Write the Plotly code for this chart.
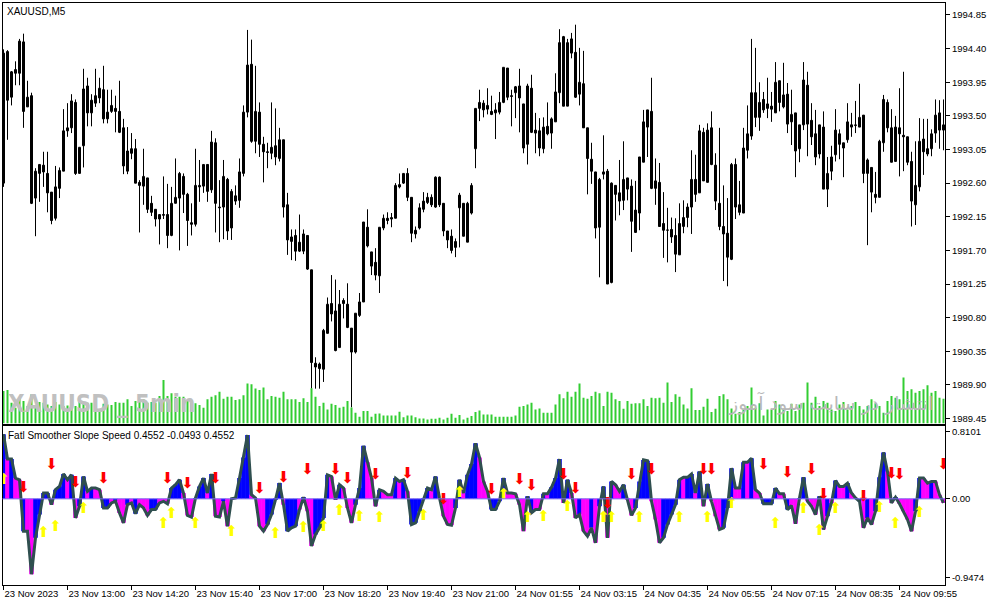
import plotly.graph_objects as go

# XAUUSD M5 candles (bar 0 = leftmost)
open_ = [
    1992.60, 1994.36, 1993.75, 1994.07, 1994.07, 1994.49, 1993.62, 1993.77, 1992.40, 1992.73,
    1992.84, 1992.73, 1992.48, 1992.13, 1992.53, 1992.76, 1993.30, 1993.34, 1993.68, 1992.73,
    1993.10, 1993.90, 1993.54, 1993.67, 1993.74, 1993.85, 1993.46, 1993.56, 1993.60, 1993.56,
    1993.34, 1992.76, 1993.06, 1993.06, 1992.61, 1992.56, 1992.67, 1992.33, 1992.25, 1992.12,
    1992.18, 1992.18, 1991.90, 1992.33, 1992.40, 1992.69, 1992.45, 1992.07, 1992.05, 1992.55,
    1992.56, 1992.85, 1992.51, 1993.14, 1992.28, 1992.28, 1992.65, 1992.00, 1992.43, 1992.37,
    1992.73, 1993.55, 1994.19, 1993.16, 1993.55, 1993.12, 1993.02, 1993.00, 1993.10, 1992.93,
    1993.18, 1992.31, 1991.82, 1991.90, 1991.69, 1991.69, 1991.90, 1991.44, 1990.19, 1990.18,
    1990.11, 1990.59, 1990.99, 1990.89, 1990.40, 1991.03, 1990.98, 1990.66, 1990.34, 1990.83,
    1991.01, 1992.01, 1991.68, 1991.54, 1991.36, 1992.00, 1992.13, 1992.12, 1992.13, 1992.58,
    1992.60, 1992.73, 1992.41, 1991.92, 1992.00, 1992.25, 1992.34, 1992.41, 1992.28, 1992.68,
    1992.33, 1991.96, 1991.89, 1991.74, 1992.27, 1992.33, 1991.81, 1992.20, 1993.06, 1993.60,
    1993.67, 1993.59, 1993.56, 1993.54, 1993.55, 1993.68, 1994.14, 1993.77, 1993.81, 1993.90,
    1993.66, 1993.12, 1993.87, 1993.31, 1993.30, 1993.06, 1993.36, 1993.27, 1993.42, 1993.81,
    1994.56, 1993.63, 1994.53, 1994.35, 1993.79, 1993.93, 1993.34, 1992.92, 1992.75, 1992.01,
    1992.72, 1992.76, 1991.27, 1992.57, 1992.47, 1992.37, 1992.67, 1992.56, 1991.94, 1992.20,
    1992.88, 1993.35, 1993.56, 1992.53, 1992.61, 1992.06, 1991.97, 1991.98, 1991.90, 1991.64,
    1992.02, 1992.14, 1992.28, 1992.65, 1992.47, 1993.28, 1992.61, 1993.34, 1992.84, 1992.33,
    1992.02, 1991.93, 1991.58, 1992.85, 1992.31, 1992.20, 1993.04, 1993.23, 1993.81, 1993.48,
    1993.72, 1993.60, 1993.63, 1993.54, 1993.97, 1993.62, 1993.79, 1993.42, 1993.54, 1993.06,
    1993.38, 1993.91, 1993.44, 1993.26, 1992.99, 1993.35, 1992.52, 1992.76, 1992.98, 1993.26,
    1993.07, 1993.18, 1993.38, 1993.37, 1993.35, 1993.51, 1992.73, 1992.81, 1992.45, 1992.41,
    1993.14, 1993.68, 1993.34, 1992.89, 1993.34, 1993.24, 1993.22, 1992.89, 1992.31, 1992.55,
    1993.19, 1993.06, 1993.06, 1993.27, 1993.54, 1993.31]

high = [
    1994.39, 1994.38, 1994.10, 1994.23, 1994.53, 1994.60, 1993.97, 1993.81, 1992.80, 1992.85,
    1993.02, 1993.02, 1992.48, 1992.83, 1992.81, 1993.59, 1993.67, 1993.79, 1993.72, 1993.08,
    1994.13, 1994.01, 1993.79, 1994.13, 1994.01, 1994.17, 1993.85, 1993.85, 1993.77, 1993.97,
    1993.46, 1993.35, 1993.27, 1993.19, 1992.64, 1993.06, 1992.67, 1992.43, 1992.25, 1992.18,
    1992.69, 1992.59, 1992.55, 1992.93, 1992.75, 1992.73, 1992.47, 1992.33, 1993.06, 1992.91,
    1992.85, 1992.85, 1993.30, 1993.20, 1992.64, 1992.91, 1992.67, 1992.52, 1992.57, 1992.93,
    1993.64, 1994.65, 1994.52, 1994.17, 1993.68, 1993.22, 1993.14, 1993.68, 1993.60, 1993.34,
    1993.18, 1992.47, 1991.98, 1991.98, 1992.18, 1991.98, 1991.90, 1991.44, 1990.27, 1990.20,
    1990.65, 1991.07, 1991.37, 1991.31, 1991.17, 1991.06, 1991.26, 1990.66, 1990.86, 1991.13,
    1992.08, 1992.25, 1991.68, 1991.73, 1992.01, 1992.18, 1992.21, 1992.20, 1992.60, 1992.73,
    1992.73, 1992.80, 1992.41, 1992.02, 1992.33, 1992.48, 1992.47, 1992.45, 1992.69, 1992.69,
    1992.33, 1991.96, 1991.98, 1991.86, 1992.47, 1992.33, 1992.35, 1992.60, 1993.60, 1993.85,
    1993.71, 1993.87, 1993.77, 1993.67, 1993.82, 1994.15, 1994.14, 1993.85, 1993.90, 1994.13,
    1993.66, 1993.93, 1994.05, 1993.54, 1993.47, 1993.48, 1993.68, 1993.48, 1994.07, 1994.66,
    1994.57, 1994.53, 1994.61, 1994.72, 1994.41, 1994.37, 1993.34, 1993.14, 1992.75, 1992.67,
    1993.24, 1992.79, 1992.61, 1992.57, 1992.91, 1993.16, 1992.67, 1992.65, 1992.63, 1992.95,
    1993.58, 1993.58, 1994.01, 1992.93, 1992.87, 1992.48, 1992.27, 1992.14, 1992.13, 1992.33,
    1992.37, 1992.33, 1993.04, 1992.98, 1993.38, 1993.34, 1993.40, 1993.56, 1993.00, 1993.34,
    1992.57, 1992.40, 1992.87, 1992.93, 1992.63, 1993.34, 1993.64, 1994.53, 1994.41, 1993.95,
    1993.82, 1994.01, 1993.82, 1994.22, 1993.97, 1994.21, 1993.94, 1993.85, 1993.54, 1993.38,
    1994.22, 1994.09, 1993.67, 1993.58, 1993.38, 1993.56, 1992.95, 1993.10, 1993.59, 1993.32,
    1993.14, 1993.67, 1993.54, 1993.70, 1993.93, 1993.51, 1992.93, 1992.81, 1992.75, 1993.18,
    1993.78, 1993.72, 1993.59, 1993.50, 1993.87, 1994.09, 1993.22, 1993.02, 1993.16, 1993.47,
    1993.46, 1993.46, 1993.32, 1993.72, 1993.71, 1993.72]

low = [
    1992.55, 1993.18, 1993.64, 1993.91, 1993.91, 1993.34, 1993.62, 1992.32, 1991.89, 1992.35,
    1992.55, 1992.21, 1992.05, 1992.10, 1992.40, 1992.76, 1993.22, 1993.27, 1992.71, 1992.73,
    1992.81, 1993.36, 1993.36, 1993.62, 1993.67, 1993.40, 1993.40, 1993.54, 1993.28, 1993.27,
    1992.72, 1992.72, 1992.92, 1992.60, 1991.94, 1992.31, 1992.20, 1992.16, 1992.02, 1991.78,
    1992.12, 1991.73, 1991.89, 1992.33, 1991.70, 1992.20, 1991.76, 1991.90, 1992.02, 1992.35,
    1992.47, 1992.35, 1992.47, 1991.94, 1991.81, 1991.85, 1991.84, 1991.84, 1992.31, 1992.27,
    1992.69, 1993.48, 1993.14, 1993.00, 1992.95, 1992.61, 1992.80, 1992.92, 1992.84, 1992.89,
    1992.14, 1991.64, 1991.57, 1991.56, 1991.68, 1991.65, 1991.44, 1989.85, 1989.85, 1989.85,
    1989.94, 1990.59, 1990.75, 1990.35, 1990.40, 1990.79, 1990.66, 1989.60, 1990.32, 1990.81,
    1991.01, 1991.74, 1991.37, 1991.30, 1991.13, 1991.97, 1992.05, 1992.01, 1992.13, 1992.53,
    1992.59, 1992.36, 1991.81, 1991.86, 1991.98, 1992.21, 1992.32, 1992.28, 1992.27, 1992.28,
    1991.89, 1991.73, 1991.66, 1991.61, 1991.74, 1991.89, 1991.81, 1992.18, 1992.80, 1993.43,
    1993.48, 1993.52, 1993.51, 1993.19, 1993.52, 1993.67, 1993.71, 1993.36, 1993.47, 1993.28,
    1993.00, 1992.85, 1993.27, 1993.00, 1992.96, 1993.00, 1993.24, 1993.06, 1993.42, 1993.67,
    1993.63, 1993.63, 1994.27, 1993.74, 1993.64, 1993.34, 1992.45, 1992.59, 1991.86, 1991.34,
    1992.65, 1991.25, 1991.26, 1992.10, 1992.17, 1992.24, 1992.37, 1991.68, 1991.94, 1991.97,
    1992.88, 1992.95, 1992.52, 1992.31, 1992.02, 1991.60, 1991.54, 1991.80, 1991.41, 1991.64,
    1991.93, 1992.01, 1991.92, 1992.35, 1992.47, 1992.63, 1992.61, 1992.84, 1992.24, 1991.97,
    1991.29, 1991.22, 1991.57, 1992.12, 1992.17, 1992.20, 1992.93, 1993.18, 1993.35, 1993.30,
    1993.54, 1993.47, 1993.42, 1993.54, 1993.56, 1993.60, 1993.27, 1993.11, 1992.68, 1992.88,
    1993.31, 1992.96, 1993.11, 1992.84, 1992.93, 1992.52, 1992.28, 1992.64, 1992.89, 1992.92,
    1992.68, 1993.14, 1993.22, 1993.27, 1993.35, 1992.60, 1991.77, 1992.21, 1992.33, 1992.41,
    1993.02, 1993.28, 1992.88, 1992.89, 1992.69, 1992.76, 1992.84, 1992.02, 1992.04, 1992.49,
    1992.71, 1992.96, 1992.96, 1993.14, 1993.06, 1993.04]

close = [
    1994.34, 1993.71, 1994.09, 1994.12, 1994.50, 1993.56, 1993.75, 1992.33, 1992.76, 1992.85,
    1992.75, 1992.47, 1992.10, 1992.55, 1992.77, 1993.30, 1993.34, 1993.70, 1992.73, 1993.08,
    1993.86, 1993.54, 1993.71, 1993.77, 1993.87, 1993.46, 1993.55, 1993.64, 1993.56, 1993.28,
    1992.83, 1993.03, 1993.00, 1992.60, 1992.57, 1992.69, 1992.25, 1992.21, 1992.12, 1992.18,
    1992.17, 1991.90, 1992.33, 1992.41, 1992.73, 1992.45, 1992.10, 1992.05, 1992.57, 1992.57,
    1992.85, 1992.49, 1993.15, 1992.33, 1992.27, 1992.69, 1991.96, 1992.49, 1992.36, 1992.75,
    1993.55, 1994.18, 1993.16, 1993.56, 1993.12, 1993.02, 1993.01, 1993.08, 1992.95, 1993.18,
    1992.28, 1991.84, 1991.88, 1991.69, 1991.81, 1991.92, 1991.45, 1990.20, 1990.14, 1990.12,
    1990.63, 1990.98, 1990.85, 1990.36, 1990.98, 1990.99, 1990.67, 1990.34, 1990.86, 1991.01,
    1992.08, 1991.76, 1991.49, 1991.37, 1992.01, 1992.13, 1992.10, 1992.14, 1992.57, 1992.55,
    1992.73, 1992.41, 1991.93, 1991.97, 1992.27, 1992.36, 1992.41, 1992.31, 1992.68, 1992.31,
    1991.96, 1991.84, 1991.70, 1991.82, 1992.44, 1991.89, 1992.33, 1992.57, 1993.60, 1993.68,
    1993.58, 1993.64, 1993.52, 1993.58, 1993.68, 1994.15, 1993.75, 1993.76, 1993.89, 1993.74,
    1993.07, 1993.90, 1993.28, 1993.27, 1993.07, 1993.35, 1993.26, 1993.46, 1993.82, 1994.48,
    1993.63, 1994.48, 1994.34, 1993.75, 1993.95, 1993.34, 1992.93, 1992.76, 1992.00, 1992.65,
    1992.75, 1991.25, 1992.60, 1992.45, 1992.36, 1992.65, 1992.52, 1992.09, 1992.24, 1992.95,
    1993.42, 1993.58, 1992.53, 1992.63, 1992.02, 1991.97, 1991.97, 1991.88, 1991.65, 1992.06,
    1992.14, 1992.28, 1992.65, 1992.45, 1993.30, 1992.63, 1993.31, 1992.85, 1992.36, 1992.02,
    1991.92, 1991.61, 1992.85, 1992.28, 1992.21, 1993.07, 1993.26, 1993.81, 1993.48, 1993.68,
    1993.58, 1993.66, 1993.59, 1993.95, 1993.68, 1993.78, 1993.39, 1993.52, 1993.03, 1993.38,
    1993.98, 1993.39, 1993.22, 1992.95, 1993.38, 1992.52, 1992.73, 1992.95, 1993.31, 1993.12,
    1993.14, 1993.42, 1993.35, 1993.38, 1993.48, 1992.73, 1992.91, 1992.48, 1992.41, 1993.16,
    1993.72, 1993.34, 1992.88, 1993.35, 1993.26, 1993.22, 1992.88, 1992.36, 1992.57, 1993.16,
    1993.02, 1992.99, 1993.26, 1993.51, 1993.31, 1993.38]

# tick volume
volume = [
    97, 100, 62, 47, 77, 67, 52, 87, 47, 64,
    62, 57, 52, 64, 57, 52, 54, 52, 52, 64,
    62, 62, 62, 52, 42, 59, 57, 55, 64, 62,
    62, 72, 52, 67, 72, 72, 62, 64, 62, 82,
    130, 82, 90, 80, 80, 80, 67, 62, 60, 55,
    47, 72, 80, 84, 95, 74, 80, 80, 70, 72,
    84, 119, 117, 104, 100, 107, 72, 82, 80, 77,
    95, 72, 72, 72, 64, 75, 64, 105, 80, 52,
    62, 42, 59, 55, 47, 50, 67, 48, 32, 20,
    37, 37, 20, 29, 30, 24, 24, 24, 24, 35,
    19, 24, 24, 19, 15, 15, 12, 14, 14, 17,
    12, 17, 29, 17, 25, 12, 17, 22, 34, 39,
    27, 27, 27, 20, 20, 20, 20, 20, 24, 50,
    52, 57, 62, 42, 45, 32, 32, 32, 57, 87,
    75, 95, 80, 95, 119, 77, 74, 82, 95, 90,
    52, 95, 92, 72, 67, 44, 67, 59, 60, 60,
    72, 52, 77, 75, 77, 62, 122, 64, 87, 80,
    57, 45, 105, 40, 40, 50, 74, 34, 44, 82,
    87, 72, 45, 29, 34, 42, 52, 107, 47, 60,
    24, 42, 42, 67, 57, 44, 37, 59, 37, 57,
    62, 122, 62, 80, 52, 67, 62, 42, 37, 57,
    64, 42, 52, 64, 52, 42, 52, 72, 60, 52,
    32, 67, 82, 77, 72, 137, 97, 102, 92, 97,
    102, 114, 92, 97, 77, 74]

# Fatl Smoother Slope Speed indicator
speed = [
    0.78, 0.48, 0.48, 0.25, 0.23, -0.39, -0.39, -0.91, -0.47, -0.19,
    0.07, 0.07, -0.07, 0.11, 0.15, 0.30, 0.23, 0.29, -0.23, -0.09,
    0.27, 0.09, 0.13, 0.13, 0.11, -0.11, -0.11, -0.05, -0.03, -0.17,
    -0.29, -0.07, -0.05, -0.18, -0.07, -0.11, -0.20, -0.13, -0.13, -0.05,
    -0.03, -0.06, 0.13, 0.17, 0.23, 0.07, -0.20, -0.22, 0.01, 0.15,
    0.25, 0.07, 0.30, -0.21, -0.22, -0.03, -0.33, 0.00, 0.01, 0.25,
    0.50, 0.77, 0.05, 0.01, -0.33, -0.39, -0.31, -0.19, -0.01, 0.19,
    -0.07, -0.39, -0.35, -0.33, -0.13, 0.02, -0.15, -0.57, -0.43, -0.35,
    -0.23, 0.29, 0.27, -0.01, 0.17, 0.13, -0.11, -0.29, -0.07, 0.13,
    0.64, 0.44, 0.25, -0.09, 0.11, 0.09, 0.05, 0.05, 0.25, 0.21,
    0.23, 0.09, -0.31, -0.29, -0.15, 0.01, 0.13, 0.11, 0.27, 0.01,
    -0.21, -0.31, -0.32, -0.11, 0.23, 0.07, 0.29, 0.42, 0.67, 0.50,
    0.21, 0.09, -0.13, -0.13, -0.03, 0.25, 0.07, 0.07, 0.06, -0.07,
    -0.39, 0.03, -0.17, -0.13, -0.13, 0.06, 0.06, 0.14, 0.25, 0.48,
    -0.05, 0.23, 0.07, -0.23, -0.19, -0.39, -0.45, -0.35, -0.53, -0.09,
    0.15, -0.47, 0.21, 0.17, 0.09, 0.17, -0.01, -0.20, -0.11, 0.21,
    0.47, 0.46, -0.03, -0.25, -0.53, -0.47, -0.31, -0.19, -0.07, 0.23,
    0.26, 0.26, 0.30, 0.07, 0.33, -0.09, 0.18, -0.03, -0.21, -0.37,
    -0.35, -0.11, 0.37, 0.13, 0.13, 0.44, 0.44, 0.49, 0.11, 0.07,
    -0.06, -0.06, -0.06, 0.13, 0.06, 0.06, -0.13, -0.08, -0.30, 0.01,
    0.26, -0.03, -0.09, -0.19, 0.03, -0.37, -0.21, -0.05, 0.22, 0.15,
    0.15, 0.19, 0.07, 0.01, -0.03, -0.35, -0.23, -0.31, -0.15, 0.26,
    0.56, 0.33, -0.05, 0.02, -0.06, -0.15, -0.25, -0.39, -0.15, 0.25,
    0.25, 0.19, 0.21, 0.21, 0.05, -0.05]

# histogram state per bar: b = blue buffer, m = magenta buffer
speed_state = (
    "bmbmmbmmbb" "bbmbbbmbmb" "bmbmmbbmbm" "mbmbmmmbbm" "mmbbbmmmbb"
    "bmbmmbmbbb" "bbmmmmbbbb" "mbbbmbmmbb" "bbmmbmmmbb" "bmmmbmmmbm"
    "bmbbbbbmbm" "mmmbbmbbbm" "mmbbbbmmmm" "mbbmmbmbbb" "mbmmbmmbmb"
    "bmbmmbmmbb" "bbmmmbbbbb" "mbbmbmbmmm" "bbbmmbmbmm" "bbbbmmbmmb"
    "bmmmbmbmbm" "mbmmbmbmbb" "bmmbmmmmbb" "mmbmmm")

sell_bars = [5, 12, 18, 25, 41, 46, 53, 64, 70, 76, 83, 86, 93, 101, 110, 122, 129,
             132, 140, 143, 151, 157, 162, 175, 177, 190, 196, 202, 205, 215, 222, 224, 235]
sell_level = [0.13, 0.40, 0.19, 0.24, 0.24, 0.17, 0.24, 0.12, 0.25, 0.34, 0.34, 0.24,
              0.28, 0.30, -0.02, 0.10, 0.22, 0.15, 0.28, 0.11, -0.06, 0.28, 0.35, 0.34,
              0.35, 0.41, 0.31, 0.35, 0.04, 0.02, 0.30, 0.28, 0.41]
buy_bars = [0, 10, 13, 20, 40, 42, 48, 57, 68, 75, 80, 84, 89, 94, 105, 114, 125,
            131, 135, 141, 150, 152, 159, 169, 176, 182, 193, 200, 204, 208, 219, 223, 229]
buy_level = [0.23, -0.42, -0.34, -0.13, -0.31, -0.19, -0.31, -0.40, -0.43, -0.35, -0.34,
             -0.15, -0.22, -0.23, -0.21, 0.07, 0.04, -0.24, -0.22, -0.10, -0.23, -0.23,
             -0.23, -0.23, -0.23, -0.07, -0.31, -0.13, -0.39, -0.13, -0.11, -0.31, -0.18]

time_labels = ["23 Nov 2023", "23 Nov 13:00", "23 Nov 14:20", "23 Nov 15:40", "23 Nov 17:00",
               "23 Nov 18:20", "23 Nov 19:40", "23 Nov 21:00", "24 Nov 01:55", "24 Nov 03:15",
               "24 Nov 04:35", "24 Nov 05:55", "24 Nov 07:15", "24 Nov 08:35", "24 Nov 09:55"]
price_ticks = ["1994.85", "1994.40", "1993.95", "1993.50", "1993.05", "1992.60", "1992.15",
               "1991.70", "1991.25", "1990.80", "1990.35", "1989.90", "1989.45"]
speed_ticks = ["0.8101", "0.00", "-0.9474"]

bars = list(range(len(close)))
label_bars = bars[::16][:len(time_labels)]
state_colors = {"b": "#0000FF", "m": "#FF00FF"}

# candle pieces built from the OHLC lists
wick_x, wick_y = [], []
for i in bars:
    wick_x += [i, i, None]
    wick_y += [low[i], high[i], None]
body_base = [min(o, c) for o, c in zip(open_, close)]
body_size = [max(abs(c - o), 0.004) for o, c in zip(open_, close)]
body_fill = ["white" if c > o else "black" for o, c in zip(open_, close)]

FONT = "Liberation Sans, Arial, sans-serif"
W, H = 991, 605
x_dom = [2.5 / W, 945 / W]
x_range = [-0.25, 235.375]     # 4 px per bar, bar centres on half pixels
main_dom = [1 - 423.5 / H, 1 - 2.5 / H]
ind_dom = [1 - 584.5 / H, 1 - 426 / H]

fig = go.Figure()

fig.add_trace(go.Bar(
    x=bars, y=volume, width=0.25, marker_color="#32CD32", marker_line_width=0,
    xaxis="x", yaxis="y3", hoverinfo="skip"))

fig.add_trace(go.Scatter(
    x=wick_x, y=wick_y, mode="lines", line=dict(color="black", width=1),
    xaxis="x", yaxis="y", hoverinfo="skip"))

fig.add_trace(go.Bar(
    x=bars, y=body_size, base=body_base, width=0.5,
    marker=dict(color=body_fill, line=dict(color="black", width=1)),
    xaxis="x", yaxis="y", hoverinfo="skip"))

# slightly wider than the bar step so neighbouring columns close up
fig.add_trace(go.Bar(
    x=bars, y=speed, width=1.15, marker_line_width=0,
    marker_color=[state_colors[s] for s in speed_state],
    xaxis="x2", yaxis="y2", hoverinfo="skip"))

fig.add_trace(go.Scatter(
    x=bars, y=speed, mode="lines", line=dict(color="#2F4F4F", width=3),
    xaxis="x2", yaxis="y2"))

fig.add_trace(go.Scatter(
    x=sell_bars, y=sell_level, mode="text", text=["⬇"] * len(sell_bars),
    textfont=dict(color="#FF0000", size=15, family="DejaVu Sans"),
    xaxis="x2", yaxis="y2"))

fig.add_trace(go.Scatter(
    x=buy_bars, y=buy_level, mode="text", text=["⬆"] * len(buy_bars),
    textfont=dict(color="#FFFF00", size=15, family="DejaVu Sans"),
    xaxis="x2", yaxis="y2"))

axis_common = dict(showgrid=False, zeroline=False, showline=True, mirror=True,
                   automargin=False, linecolor="black", linewidth=1, tickcolor="black",
                   tickfont=dict(family=FONT, size=9.5, color="black"))

fig.update_layout(
    width=W, height=H,
    margin=dict(l=0, r=0, t=0, b=0, autoexpand=False),
    paper_bgcolor="white", plot_bgcolor="white",
    showlegend=False, barmode="overlay",
    xaxis=dict(domain=x_dom, anchor="y", range=x_range,
               showticklabels=False, ticks="", **axis_common),
    yaxis=dict(domain=main_dom, anchor="x", side="right",
               range=[1989.384, 1995.017],
               tickvals=[float(p) for p in price_ticks], ticktext=price_ticks,
               ticks="outside", ticklen=4, **axis_common),
    yaxis3=dict(overlaying="y", range=[0, 1255], visible=False),
    xaxis2=dict(domain=x_dom, anchor="y2", matches="x", range=x_range,
                tickvals=label_bars, ticktext=time_labels, tickangle=0,
                ticks="outside", ticklen=4, ticklabelposition="outside right",
                **axis_common),
    yaxis2=dict(domain=ind_dom, anchor="x2", side="right", range=[-1.034, 0.879],
                tickvals=[float(v) for v in speed_ticks], ticktext=speed_ticks,
                ticks="outside", ticklen=4, **axis_common),
)

# zero level of the indicator window
fig.add_shape(type="line", xref="x2 domain", yref="y2", x0=0, x1=1, y0=0, y1=0,
              line=dict(color="#7B68EE", width=1), layer="above")

fig.add_annotation(text="XAUUSD,M5", xref="paper", yref="paper",
                   x=5 / W, y=1 - 12 / H, xanchor="left", yanchor="middle",
                   showarrow=False, font=dict(family=FONT, size=10, color="black"))
fig.add_annotation(text="Fatl Smoother Slope Speed 0.4552 -0.0493 0.4552",
                   xref="paper", yref="paper", x=6 / W, y=1 - 435 / H,
                   xanchor="left", yanchor="middle", showarrow=False,
                   font=dict(family=FONT, size=10, color="black"))
fig.add_annotation(text="<b>XAUUSD _ 5min</b>", xref="paper", yref="paper",
                   x=6 / W, y=1 - 404 / H, xanchor="left", yanchor="middle",
                   showarrow=False,
                   font=dict(family="Liberation Sans Narrow, DejaVu Sans Condensed, Arial",
                             size=24, color="#C0C0C0"))
fig.add_annotation(text="انتشار در سایت سود آموز", xref="paper", yref="paper",
                   x=830 / W, y=1 - 403 / H, xanchor="center", yanchor="middle",
                   showarrow=False, font=dict(family="DejaVu Sans", size=19, color="#B8B8B8"))

# the page body keeps its default 8px margin otherwise
fig.write_html("out.html", config={"displayModeBar": False},
               post_script="document.body.style.margin='0';")
